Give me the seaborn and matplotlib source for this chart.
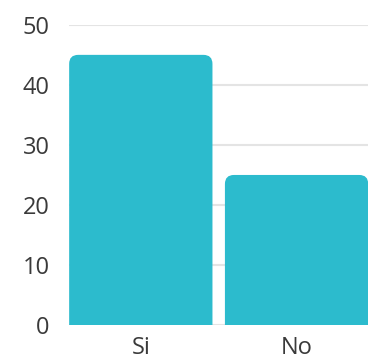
import matplotlib
matplotlib.use("Agg")
import matplotlib.pyplot as plt
import pandas as pd
import seaborn as sns
from matplotlib.patches import FancyBboxPatch

answers = ["Si", "No"]
counts = [45, 25]
y_ticks = [0, 10, 20, 30, 40, 50]

BAR_COLOR = "#2cbbcd"
GRID_COLOR = "#e4e4e4"
TEXT_COLOR = "#3a3a3a"

sns.set_style("white")
plt.rcParams["font.family"] = ["Open Sans", "DejaVu Sans"]

df = pd.DataFrame({"answer": answers, "count": counts})

fig = plt.figure(figsize=(3.8, 3.6), dpi=100)
ax = fig.add_axes([0.182, 0.097, 0.787, 0.834])

sns.barplot(data=df, x="answer", y="count", color=BAR_COLOR, saturation=1,
            width=0.92, ax=ax, zorder=3)

ax.set_xlim(-0.46, 1.46)
ax.set_ylim(0, 50)
ax.set_yticks(y_ticks)

# swap plain rectangles for ones with rounded top corners
px_x = ax.transData.transform((1, 0))[0] - ax.transData.transform((0, 0))[0]
px_y = ax.transData.transform((0, 1))[1] - ax.transData.transform((0, 0))[1]
radius = 9 / px_x
for rect in list(ax.patches):
    x0, w, h = rect.get_x(), rect.get_width(), rect.get_height()
    rect.remove()
    ax.add_patch(FancyBboxPatch((x0 + radius, -5), w - 2 * radius, h + 5 - radius * px_x / px_y,
                                boxstyle=f"round,pad={radius},rounding_size={radius}",
                                mutation_aspect=px_x / px_y,
                                facecolor=BAR_COLOR, edgecolor="none", zorder=3,
                                clip_on=True))

ax.grid(axis="y", color=GRID_COLOR, linewidth=1.5, zorder=0)
ax.grid(axis="x", visible=False)
sns.despine(ax=ax, left=True, bottom=True)

ax.set_xlabel("")
ax.set_ylabel("")
ax.tick_params(axis="both", length=0, labelsize=17, labelcolor=TEXT_COLOR)
ax.tick_params(axis="y", pad=14)
ax.tick_params(axis="x", pad=8)

fig.savefig("out.png", dpi=100)
